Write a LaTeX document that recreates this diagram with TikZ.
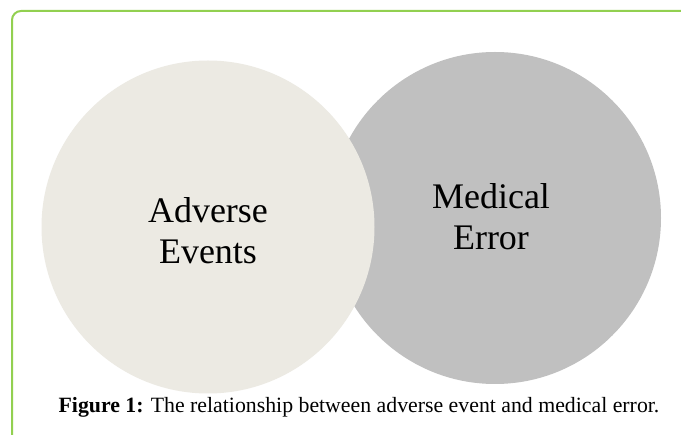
\documentclass[tikz,border=0pt]{standalone}
\usepackage{fontspec}
\setmainfont{Liberation Serif}
\definecolor{framegreen}{HTML}{92D050}
\definecolor{beigefill}{HTML}{ECEAE3}
\definecolor{grayfill}{HTML}{C0C0C0}
\tikzset{
  venn/.style={circle, draw=none, inner sep=0pt},
  vlabel/.style={align=center, font=\fontsize{36}{41}\selectfont, inner sep=0pt},
}
\begin{document}
\begin{tikzpicture}[x=1pt,y=-1pt]
\useasboundingbox (0,0) rectangle (681,435);
\fill[white] (0,0) rectangle (681,435);
\draw[framegreen, line width=2pt, rounded corners=9pt] (12,445) -- (12,11) -- (690,11);
\node[venn, fill=grayfill, minimum size=332pt] (me) at (495,218) {};
\node[venn, fill=beigefill, minimum size=333pt] (ae) at (208,227) {};
\node[vlabel] (aet) at (208,231) {Adverse\\Events};
\node[vlabel] (met) at (491,217) {Medical\\Error};
\node[font=\fontsize{21.8}{25}\selectfont, inner sep=0pt, anchor=base] (cap) at (359,413) {\textbf{Figure 1:} The relationship between adverse event and medical error.};
\end{tikzpicture}
\end{document}
